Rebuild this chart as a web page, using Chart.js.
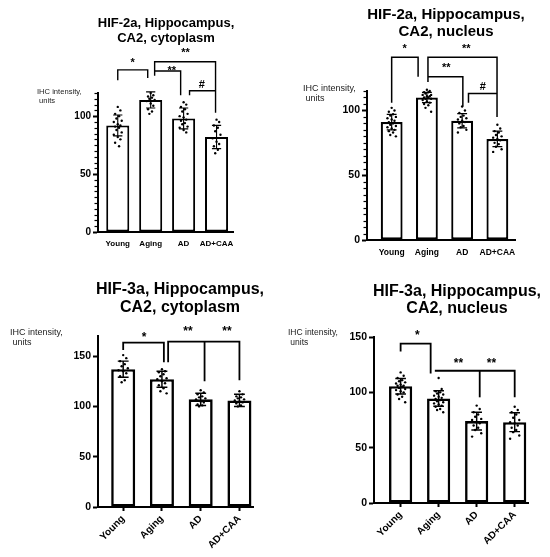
<!DOCTYPE html>
<html><head><meta charset="utf-8">
<script src="https://cdn.jsdelivr.net/npm/chart.js@4.4.1/dist/chart.umd.min.js"></script>
<style>
html,body{margin:0;padding:0;background:#fff;}
body{width:550px;height:557px;position:relative;overflow:hidden;}
canvas{position:absolute;left:0;top:0;}
</style></head><body>
<canvas id="c1" width="550" height="557"></canvas>
<canvas id="c2" width="550" height="557"></canvas>
<canvas id="c3" width="550" height="557"></canvas>
<canvas id="c4" width="550" height="557"></canvas>
<script>
// ---------------- DATA ----------------
const categories = ['Young', 'Aging', 'AD', 'AD+CAA'];

// HIF-2a, CA2, cytoplasm
const hif2CytoMean = [92, 114, 98, 82];
const hif2CytoSD = [9, 7, 9, 10];
const hif2CytoYoung = [108, 105, 102, 100, 98, 96, 95, 93, 92, 91, 90, 88, 86, 84, 82, 80, 77, 74];
const hif2CytoAging = [120, 118, 117, 116, 115, 114, 113, 111, 109, 106, 104, 102];
const hif2CytoAD = [112, 110, 108, 106, 104, 102, 100, 99, 97, 96, 94, 93, 91, 90, 88, 86];
const hif2CytoADCAA = [97, 95, 92, 90, 87, 84, 81, 78, 76, 74, 71, 68];
const hif2CytoTicks = [0, 50, 100];
const hif2CytoBrackets = [
  [[0, 131], [0, 140], [0.91, 140], [0.91, 133]],
  [[1.12, 135], [1.12, 147], [2.97, 147], [2.97, 103]],
  [[1.12, 139], [1.91, 139], [1.91, 118]],
  [[2.18, 118], [2.18, 122], [2.97, 122]]
];
const hif2CytoMarks = [
  {x: 0.45, y: 148, text: '*'},
  {x: 1.64, y: 141.5, text: '**'},
  {x: 2.06, y: 157, text: '**'},
  {x: 2.55, y: 127, text: '#'}
];

// HIF-2a, CA2, nucleus
const hif2NucMean = [91, 110, 92, 78];
const hif2NucSD = [6, 4, 5.5, 6];
const hif2NucYoung = [102, 100, 99, 97, 96, 95, 94, 93, 92, 91, 90, 89, 88, 87, 86, 85, 84, 83, 81, 80];
const hif2NucAging = [116, 115, 114, 114, 113, 112, 112, 111, 111, 110, 110, 109, 109, 108, 107, 106, 105, 104, 102, 99];
const hif2NucAD = [103, 100, 98, 96, 95, 94, 93, 92, 91, 90, 88, 87, 85, 83];
const hif2NucADCAA = [89, 86, 84, 83, 81, 80, 79, 78, 77, 75, 74, 72, 70, 68];
const hif2NucTicks = [0, 50, 100];
const hif2NucBrackets = [
  [[0, 106], [0, 141], [0.75, 141], [0.75, 126]],
  [[1.03, 122], [1.03, 141], [2.99, 141], [2.99, 95]],
  [[1.03, 126], [2.02, 126], [2.02, 103]],
  [[2.18, 106], [2.18, 113], [2.99, 113]]
];
const hif2NucMarks = [
  {x: 0.37, y: 149.6, text: '*'},
  {x: 2.12, y: 149.6, text: '**'},
  {x: 1.55, y: 135, text: '**'},
  {x: 2.59, y: 118.4, text: '#'}
];

// HIF-3a, CA2, cytoplasm
const hif3CytoMean = [137, 127, 107, 106];
const hif3CytoSD = [8, 8, 6, 6];
const hif3CytoYoung = [151, 148, 145, 142, 140, 138, 136, 135, 133, 130, 126, 124];
const hif3CytoAging = [137, 135, 134, 132, 130, 128, 127, 125, 123, 121, 118, 115, 113];
const hif3CytoAD = [116, 114, 112, 110, 109, 108, 107, 105, 104, 102, 101, 100];
const hif3CytoADCAA = [115, 112, 110, 109, 108, 107, 106, 105, 104, 103, 101, 100];
const hif3CytoTicks = [0, 50, 100, 150];
const hif3CytoBrackets = [
  [[0, 156], [0, 163.5], [1.05, 163.5], [1.05, 144]],
  [[1.16, 144], [1.16, 164.5], [3.0, 164.5], [3.0, 126]],
  [[2.1, 164.5], [2.1, 125]]
];
const hif3CytoMarks = [
  {x: 0.54, y: 171, text: '*'},
  {x: 1.67, y: 177, text: '**'},
  {x: 2.68, y: 177, text: '**'}
];

// HIF-3a, CA2, nucleus
const hif3NucMean = [105.5, 94.5, 74, 73];
const hif3NucSD = [7, 7, 8, 8.5];
const hif3NucYoung = [118, 115, 113, 111, 110, 109, 108, 107, 106, 106, 105, 104, 103, 102, 101, 100, 98, 96, 94, 91];
const hif3NucAging = [113, 103, 101, 100, 99, 98, 97, 96, 95, 94, 93, 92, 91, 90, 89, 88, 87, 85, 84, 82];
const hif3NucAD = [88, 85, 82, 80, 78, 76, 75, 73, 72, 70, 68, 66, 63, 60];
const hif3NucADCAA = [87, 84, 82, 80, 77, 75, 73, 72, 70, 68, 66, 64, 61, 58];
const hif3NucTicks = [0, 50, 100, 150];
const hif3NucBrackets = [
  [[0, 137], [0, 144], [0.79, 144], [0.79, 117]],
  [[0.9, 119.5], [3.0, 119.5], [3.0, 95.5]],
  [[2.08, 119.5], [2.08, 95.5]]
];
const hif3NucMarks = [
  {x: 0.44, y: 154, text: '*'},
  {x: 1.52, y: 129, text: '**'},
  {x: 2.39, y: 129, text: '**'}
];

// ---------------- LAYOUT / STYLE ----------------
const FONT = "'Liberation Sans', Arial, sans-serif";
const jitter = [0, 0.08, -0.08, 0.04, -0.04, 0.12, -0.12];

const panels = [
  {id: 'c1', mean: hif2CytoMean, sd: hif2CytoSD, dots: [hif2CytoYoung, hif2CytoAging, hif2CytoAD, hif2CytoADCAA],
   ticks: hif2CytoTicks, brackets: hif2CytoBrackets, marks: hif2CytoMarks,
   area: {L: 98, R: 233, T: 93, B: 232}, yMax: 120, xMin: -0.6, xMax: 3.5, barPct: 0.7, minor: 5,
   title: ['HIF-2a, Hippocampus,', 'CA2, cytoplasm'], titleX: 166, titleY: [23, 38], titleSize: 13,
   ylab: ['IHC intensity,', ' units'], ylabX: 37, ylabY: [92, 101], ylabSize: 7.6,
   xFont: 8, xRot: 0, xTick: 0, xPad: 7, xH: 30, yFont: 10, border: 2, lineW: 1.4, markSize: 11},
  {id: 'c2', mean: hif2NucMean, sd: hif2NucSD, dots: [hif2NucYoung, hif2NucAging, hif2NucAD, hif2NucADCAA],
   ticks: hif2NucTicks, brackets: hif2NucBrackets, marks: hif2NucMarks,
   area: {L: 367, R: 515, T: 91, B: 240}, yMax: 115, xMin: -0.7, xMax: 3.5, barPct: 0.62, minor: 5,
   title: ['HIF-2a, Hippocampus,', 'CA2, nucleus'], titleX: 446, titleY: [15, 32], titleSize: 15,
   ylab: ['IHC intensity,', ' units'], ylabX: 303, ylabY: [89, 99], ylabSize: 9,
   xFont: 8.5, xRot: 0, xTick: 0, xPad: 8, xH: 30, yFont: 10.5, border: 2.2, lineW: 1.5, markSize: 11},
  {id: 'c3', mean: hif3CytoMean, sd: hif3CytoSD, dots: [hif3CytoYoung, hif3CytoAging, hif3CytoAD, hif3CytoADCAA],
   ticks: hif3CytoTicks, brackets: hif3CytoBrackets, marks: hif3CytoMarks,
   area: {L: 98, R: 253, T: 336, B: 507}, yMax: 170, xMin: -0.65, xMax: 3.35, barPct: 0.62, minor: 0,
   title: ['HIF-3a, Hippocampus,', 'CA2, cytoplasm'], titleX: 180, titleY: [290, 308], titleSize: 16,
   ylab: ['IHC intensity,', ' units'], ylabX: 10, ylabY: [333, 343], ylabSize: 9,
   xFont: 10, xRot: 45, xTick: 4, xPad: 2, xH: 48, yFont: 10.5, border: 2.6, lineW: 1.8, markSize: 12},
  {id: 'c4', mean: hif3NucMean, sd: hif3NucSD, dots: [hif3NucYoung, hif3NucAging, hif3NucAD, hif3NucADCAA],
   ticks: hif3NucTicks, brackets: hif3NucBrackets, marks: hif3NucMarks,
   area: {L: 374, R: 528, T: 337, B: 503}, yMax: 150, xMin: -0.7, xMax: 3.35, barPct: 0.61, minor: 0,
   title: ['HIF-3a, Hippocampus,', 'CA2, nucleus'], titleX: 457, titleY: [292, 309], titleSize: 16,
   ylab: ['IHC intensity,', ' units'], ylabX: 288, ylabY: [333, 343], ylabSize: 8.5,
   xFont: 10, xRot: 45, xTick: 4, xPad: 2, xH: 48, yFont: 10.5, border: 2.6, lineW: 1.8, markSize: 12}
];

const Y_AXIS_W = 40;

const decorPlugin = {
  id: 'decor',
  afterDatasetsDraw(chart) {
    const p = chart.options.plugins.decor.panel;
    const ctx = chart.ctx, xs = chart.scales.x, ys = chart.scales.y;
    ctx.save();
    ctx.strokeStyle = '#000';
    ctx.lineWidth = p.lineW * 0.8;
    // error bars
    p.mean.forEach((m, i) => {
      const x = xs.getPixelForValue(i);
      const cap = xs.getPixelForValue(i + 0.14) - x;
      const yt = ys.getPixelForValue(m + p.sd[i]);
      const yb = ys.getPixelForValue(m - p.sd[i]);
      ctx.beginPath();
      ctx.moveTo(x, yt); ctx.lineTo(x, yb);
      ctx.moveTo(x - cap, yt); ctx.lineTo(x + cap, yt);
      ctx.moveTo(x - cap, yb); ctx.lineTo(x + cap, yb);
      ctx.stroke();
    });
    ctx.restore();
  },
  afterDraw(chart) {
    const p = chart.options.plugins.decor.panel;
    const ctx = chart.ctx, xs = chart.scales.x, ys = chart.scales.y;
    ctx.save();
    // minor ticks
    if (p.minor) {
      ctx.strokeStyle = '#000';
      ctx.lineWidth = 1.2;
      const ax = chart.chartArea.left;
      for (let v = 0; v <= p.yMax + 0.001; v += p.minor) {
        if (v % 50 === 0) continue;
        const y = Math.round(ys.getPixelForValue(v)) + 0.5;
        ctx.beginPath(); ctx.moveTo(ax - 3.5, y); ctx.lineTo(ax, y); ctx.stroke();
      }
    }
    // brackets
    ctx.strokeStyle = '#000';
    ctx.lineWidth = p.lineW;
    ctx.lineJoin = 'miter';
    p.brackets.forEach(line => {
      ctx.beginPath();
      line.forEach((pt, k) => {
        const px = xs.getPixelForValue(pt[0]), py = ys.getPixelForValue(pt[1]);
        if (k === 0) ctx.moveTo(px, py); else ctx.lineTo(px, py);
      });
      ctx.stroke();
    });
    ctx.fillStyle = '#000';
    ctx.textAlign = 'center';
    ctx.textBaseline = 'middle';
    ctx.font = 'bold ' + p.markSize + 'px ' + FONT;
    p.marks.forEach(mk => {
      let py = ys.getPixelForValue(mk.y);
      if (mk.text.indexOf('*') >= 0) py += p.markSize * 0.25;
      ctx.fillText(mk.text, xs.getPixelForValue(mk.x), py);
    });
    // title
    ctx.font = 'bold ' + p.titleSize + 'px ' + FONT;
    p.title.forEach((t, k) => ctx.fillText(t, p.titleX, p.titleY[k]));
    // y label
    ctx.textAlign = 'left';
    ctx.fillStyle = '#222';
    ctx.font = p.ylabSize + 'px ' + FONT;
    p.ylab.forEach((t, k) => ctx.fillText(t, p.ylabX, p.ylabY[k]));
    ctx.restore();
  }
};

panels.forEach(p => {
  const barData = p.mean.map((m, i) => ({x: i, y: m}));
  const dotData = [];
  p.dots.forEach((arr, i) => arr.forEach((v, j) => dotData.push({x: i + jitter[j % jitter.length], y: v})));
  new Chart(document.getElementById(p.id), {
    data: {
      datasets: [
        {type: 'scatter', data: dotData, pointRadius: 1.2, pointBackgroundColor: '#000', pointBorderWidth: 0, order: 0, clip: false},
        {type: 'bar', data: barData, backgroundColor: '#fff', borderColor: '#000', borderWidth: p.border,
         barPercentage: p.barPct, categoryPercentage: 1, order: 1, borderSkipped: false}
      ]
    },
    options: {
      responsive: false, animation: false, devicePixelRatio: 1,
      layout: {padding: {left: p.area.L - Y_AXIS_W, right: 550 - p.area.R, top: p.area.T, bottom: 557 - p.area.B - p.xH}},
      plugins: {legend: {display: false}, tooltip: {enabled: false}, decor: {panel: p}},
      scales: {
        x: {
          type: 'linear', min: p.xMin, max: p.xMax, offset: false,
          afterBuildTicks: s => { s.ticks = categories.map((c, i) => ({value: i})); },
          afterFit: s => { s.height = p.xH; },
          ticks: {
            callback: v => categories[v], autoSkip: false, maxRotation: p.xRot, minRotation: p.xRot,
            color: '#000', font: {family: FONT, size: p.xFont, weight: 'bold'}, padding: p.xPad
          },
          grid: {display: true, drawOnChartArea: false, drawTicks: p.xTick > 0, tickLength: p.xTick, tickWidth: 2, tickColor: '#000', offset: false},
          border: {display: true, color: '#000', width: 2}
        },
        y: {
          type: 'linear', min: 0, max: p.yMax,
          afterBuildTicks: s => { s.ticks = p.ticks.map(v => ({value: v})); },
          afterFit: s => { s.width = Y_AXIS_W; },
          ticks: {color: '#000', font: {family: FONT, size: p.yFont, weight: 'bold'}, padding: 2},
          grid: {display: true, drawOnChartArea: false, drawTicks: true, tickLength: 5, tickWidth: 2, tickColor: '#000'},
          border: {display: true, color: '#000', width: 2}
        }
      }
    },
    plugins: [decorPlugin]
  });
});
</script>
</body></html>
